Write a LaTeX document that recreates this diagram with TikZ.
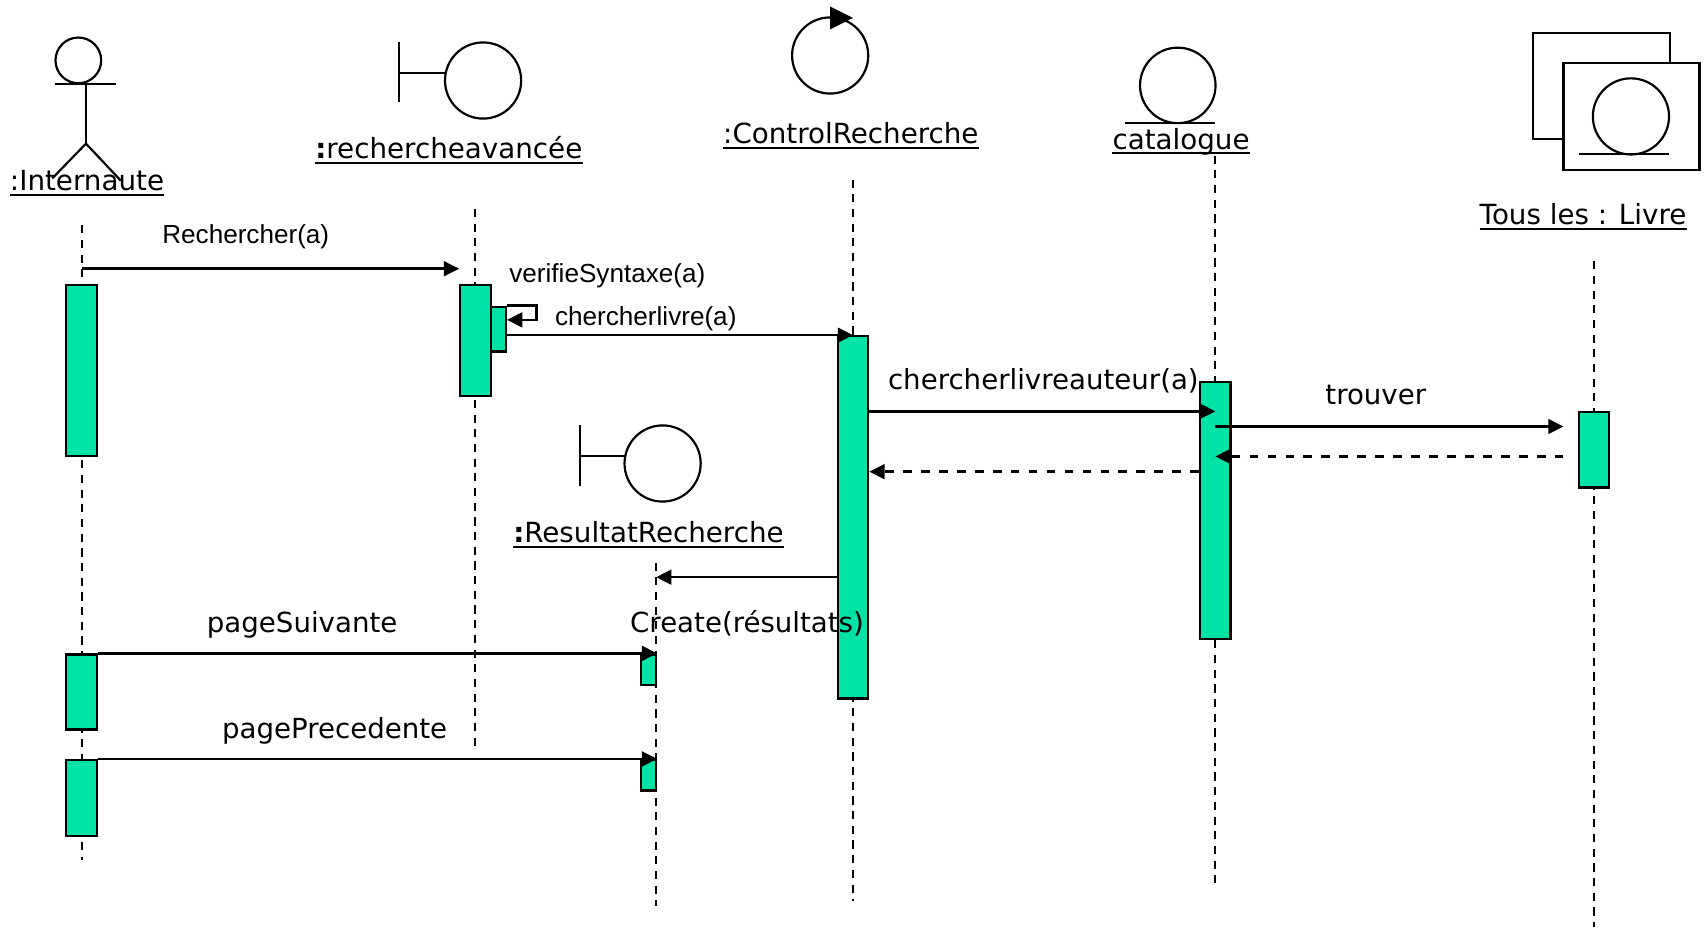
\documentclass[tikz,border=0pt]{standalone}
\usepackage{fontspec}
\setmainfont{DejaVu Sans}
\newfontfamily\arialf{Liberation Sans}
\usetikzlibrary{arrows.meta}
\definecolor{actgreen}{RGB}{0,226,166}
\tikzset{
 life/.style={line width=1.8pt, dash pattern=on 7.5pt off 6pt},
 act/.style={draw, line width=2pt, fill=actgreen, inner sep=0pt, minimum width=28pt, anchor=north},
 msg/.style={line width=2.3pt, -{Triangle[length=14pt,width=13.5pt]}},
 ret/.style={msg, dash pattern=on 8pt off 8.5pt},
 icon/.style={line width=2pt},
 lbl/.style={font=\fontsize{25.5}{30}\selectfont, inner sep=0pt, anchor=base},
 mlbl/.style={font=\fontsize{25.4}{30}\selectfont, inner sep=0pt, anchor=base west},
 slbl/.style={font=\arialf\fontsize{24}{28}\selectfont, inner sep=0pt, anchor=base west},
 uline/.style={line width=2pt},
}
\begin{document}
\begin{tikzpicture}[x=1pt,y=-1pt]
\useasboundingbox (0,0) rectangle (1568,856.6);
% ---------- icons ----------
% actor
\draw[icon] (72,55.5) circle (21);
\draw[icon] (51,77) -- (107,77);
\draw[icon] (79,77) -- (79,132);
\draw[icon] (48,164) -- (79,132) -- (111,166);
% boundary rechercheavancee
\draw[icon] (367,39) -- (367,94);
\draw[icon] (367,67) -- (409,67);
\draw[icon] (444,74) circle (35);
% control
\draw[icon] (763,51) circle (35);
\fill (763,6) -- (784,16.5) -- (763,27) -- cycle;
% entity catalogue
\draw[icon] (1082.5,78.5) circle (34.7);
\draw[icon] (1034,113) -- (1117,113);
% multi-object Livre
\draw[icon] (1409,30) rectangle (1535,128);
\draw[icon,fill=white] (1437,58) rectangle (1562,156);
\draw[icon] (1499,107) circle (35);
\draw[icon] (1451,141.5) -- (1534,141.5);
% boundary ResultatRecherche
\draw[icon] (533,391) -- (533,447);
\draw[icon] (533,419) -- (574,419);
\draw[icon] (609,426) circle (35);
% ---------- object labels ----------
\node[lbl] (lint) at (80,175) {:Internaute};
\draw[uline] (lint.west |- 0,179) -- (lint.east |- 0,179);
\node[lbl] (lrech) at (412.5,146) {{\bfseries :}rechercheavancée};
\draw[uline] (lrech.west |- 0,150) -- (lrech.east |- 0,150);
\node[lbl] (lctl) at (782,132) {:ControlRecherche};
\draw[uline] (lctl.west |- 0,136) -- (lctl.east |- 0,136);
\node[lbl] (lcat) at (1085.5,137) {catalogue};
\draw[uline] (lcat.west |- 0,141) -- (lcat.east |- 0,141);
\node[lbl] (lliv) at (1455,206) {Tous les : Livre};
\draw[uline] (lliv.west |- 0,210.5) -- (lliv.east |- 0,210.5);
\node[lbl] (lres) at (596,499) {{\bfseries :}ResultatRecherche};
\draw[uline] (lres.west |- 0,502.5) -- (lres.east |- 0,502.5);
% ---------- lifelines ----------
\coordinate (intT) at (75,207);   \coordinate (intB) at (75,790);
\coordinate (rechT) at (437,192); \coordinate (rechB) at (437,688);
\coordinate (ctlT) at (784,165);  \coordinate (ctlB) at (784,828);
\coordinate (catT) at (1117,143); \coordinate (catB) at (1117,818);
\coordinate (livT) at (1465,240); \coordinate (livB) at (1465,852);
\coordinate (resT) at (603,517);  \coordinate (resB) at (603,833);
\draw[life] (intT) -- (intB);
\draw[life] (rechT) -- (rechB);
\draw[life] (ctlT) -- (ctlB);
\draw[life] (catT) -- (catB);
\draw[life] (livT) -- (livB);
\draw[life] (resT) -- (resB);
% ---------- activation boxes ----------
\node[act, minimum height=157pt] (bint1) at (75,261) {};
\node[act, minimum height=69pt]  (bint2) at (75,600.5) {};
\node[act, minimum height=70pt]  (bint3) at (75,697.5) {};
\node[act, minimum height=102pt] (brech) at (437,261) {};
\node[act, minimum height=41pt, minimum width=14pt] (bself) at (458,281) {};
\node[act, minimum height=333pt] (bctl) at (784,308) {};
\node[act, minimum height=236pt] (bcat) at (1117,350) {};
\node[act, minimum height=69pt]  (bliv) at (1465,378) {};
\node[act, minimum height=28pt, minimum width=14pt] (bres1) at (596,600.5) {};
\node[act, minimum height=28pt, minimum width=14pt] (bres2) at (596,697.5) {};
% ---------- messages ----------
\coordinate (m1e) at (422,247);
\draw[msg] (intT |- m1e) -- (m1e);
\node[slbl] at (149,224) {Rechercher(a)};
\draw[msg] (bself.north east) -- ++(27,0) -- ++(0,13) -- (bself.east |- 0,294);
\node[slbl] at (468,260) {verifieSyntaxe(a)};
\draw[msg] (bself.east |- bctl.north) -- (bctl.north);
\node[slbl] at (510,299) {chercherlivre(a)};
\draw[msg] (bctl.east |- 0,378) -- (catT |- 0,378);
\node[mlbl] at (816,358) {chercherlivreauteur(a)};
\coordinate (m5e) at (1437,392);
\draw[msg] (catT |- m5e) -- (m5e);
\node[mlbl] at (1218,372) {trouver};
\coordinate (r1s) at (1437,419.5);
\draw[ret] (r1s) -- (catT |- r1s);
\draw[ret] (bcat.west |- 0,433.5) -- (bctl.east |- 0,433.5);
\draw[msg] (bctl.west |- 0,530.5) -- (resT |- 0,530.5);
\node[mlbl] at (579,581) {Create(résultats)};
\draw[msg] (bint2.north east) -- (bres1.north east);
\node[mlbl] at (190,581) {pageSuivante};
\draw[msg] (bint3.north east) -- (bres2.north east);
\node[mlbl] at (204,679) {pagePrecedente};
\end{tikzpicture}
\end{document}
